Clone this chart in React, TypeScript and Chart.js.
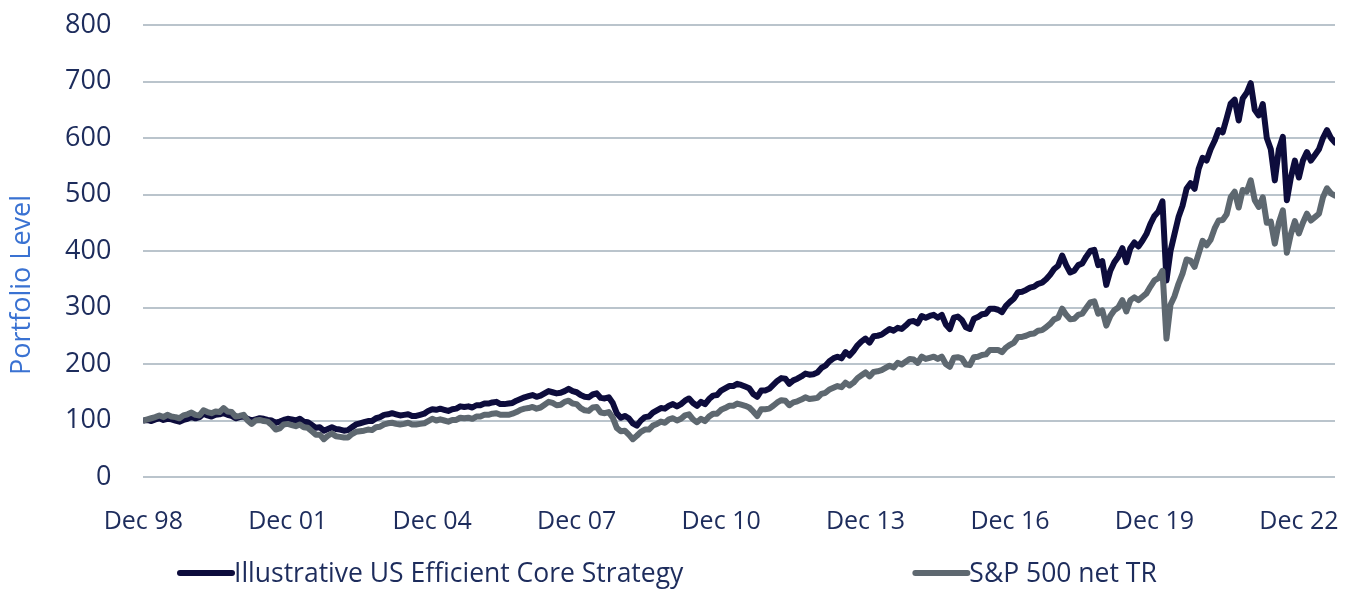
import React, { useEffect, useRef } from "react";
import { Chart, registerables } from "chart.js";

Chart.register(...registerables);

// Monthly series, starting Dec 1998 (index 0) through Sep 2023
const SERIES_NAMES = ["Illustrative US Efficient Core Strategy", "S&P 500 net TR"];
const TICK_LABELS = ["Dec 98", "Dec 01", "Dec 04", "Dec 07", "Dec 10", "Dec 13", "Dec 16", "Dec 19", "Dec 22"];
const MONTHS_PER_TICK = 36;
const Y_MIN = 0;
const Y_MAX = 800;
const Y_STEP = 100;
const Y_TITLE = "Portfolio Level";

const CORE = [
  100,
  101, 99, 102, 104, 101, 103, 102, 100, 98, 101, 103, 106,
  104, 106, 112, 109, 107, 110, 111, 113, 110, 108, 104, 106,
  107, 103, 100, 102, 104, 103, 101, 100, 96, 98, 101, 103,
  102, 100, 103, 98, 97, 92, 87, 88, 82, 85, 88, 85,
  84, 82, 83, 88, 93, 95, 97, 99, 99, 104, 106, 110,
  111, 113, 111, 109, 110, 111, 108, 108, 110, 112, 117, 120,
  119, 121, 119, 117, 120, 121, 125, 124, 125, 123, 127, 127,
  130, 130, 132, 133, 129, 129, 130, 131, 135, 138, 141, 143,
  145, 142, 144, 148, 152, 150, 148, 149, 152, 156, 152, 150,
  145, 142, 141, 146, 148, 140, 139, 141, 131, 113, 105, 108,
  104, 95, 91, 100, 106, 107, 114, 118, 122, 121, 126, 129,
  125, 129, 135, 139, 131, 126, 133, 129, 138, 144, 145, 153,
  157, 161, 161, 165, 163, 160, 157, 147, 142, 153, 153, 156,
  163, 170, 175, 174, 165, 171, 174, 178, 183, 181, 182, 185,
  193, 197, 205, 210, 213, 210, 221, 215, 223, 233, 240, 245,
  238, 249, 250, 252, 257, 262, 259, 264, 262, 268, 275, 276,
  272, 285, 282, 285, 287, 282, 287, 270, 262, 282, 284, 278,
  265, 262, 280, 283, 288, 289, 298, 298, 296, 292, 303, 310,
  316, 327, 328, 331, 335, 337, 342, 344, 350, 358, 368, 374,
  392, 375, 362, 365, 375, 378, 390, 400, 402, 375, 382, 340,
  365, 380, 390, 405, 380, 405, 415, 408, 418, 430, 448, 462,
  470, 488, 348, 400, 430, 460, 480, 510, 520, 510, 545, 565,
  560, 580, 595, 614, 610, 635, 661, 668, 631, 670, 680, 697,
  650, 640, 660, 600, 580, 525, 580, 602, 490, 530, 560, 530,
  560, 575, 560, 570, 580, 600, 614, 600, 592,
];

const SPX = [
  100,
  102, 104, 106, 109, 106, 110, 107, 106, 104, 109, 111, 114,
  110, 109, 118, 115, 113, 116, 115, 122, 116, 115, 107, 108,
  110, 100, 94, 100, 101, 99, 98, 92, 84, 86, 93, 94,
  92, 90, 93, 88, 87, 81, 75, 75, 67, 73, 77, 72,
  71, 70, 70, 76, 80, 81, 82, 84, 83, 88, 89, 93,
  95, 96, 94, 93, 94, 96, 93, 93, 94, 95, 99, 103,
  100, 102, 100, 98, 101, 101, 105, 104, 105, 103, 107, 107,
  110, 110, 112, 113, 110, 110, 110, 112, 115, 119, 121, 122,
  124, 121, 123, 128, 133, 131, 127, 128, 133, 135, 130, 129,
  122, 118, 117, 123, 124, 114, 113, 115, 105, 87, 81, 82,
  75, 67, 73, 80, 84, 84, 91, 94, 98, 96, 102, 104,
  100, 103, 109, 111, 102, 97, 103, 99, 107, 112, 112, 119,
  122, 126, 126, 130, 128, 126, 123, 116, 108, 120, 120, 121,
  126, 132, 136, 135, 127, 132, 134, 137, 141, 138, 139, 140,
  147, 149, 155, 158, 161, 159, 167, 162, 167, 175, 180, 185,
  178, 186, 187, 189, 193, 197, 194, 202, 199, 204, 209, 208,
  202, 213, 209, 211, 213, 209, 213, 200, 195, 211, 212, 210,
  199, 198, 212, 213, 216, 217, 225, 225, 225, 221, 229, 234,
  238, 248, 248, 250, 253, 254, 259, 260, 265, 271, 279, 282,
  298, 287, 279, 280, 287, 289, 299, 309, 311, 289, 295, 268,
  285, 295, 300, 313, 293, 313, 318, 313, 319, 325, 337, 348,
  352, 365, 245, 305, 320, 342, 360, 385, 383, 372, 395, 418,
  410, 420, 440, 454, 455, 465, 495, 505, 477, 508, 505, 525,
  490, 478, 495, 450, 452, 413, 450, 472, 397, 430, 453, 431,
  450, 466, 454, 460, 466, 495, 511, 502, 498,
];

const COLORS = { core: "#0d0c3c", spx: "#5e6870", grid: "#bac4cc", tick: "#1d2c5c", title: "#3a72d2" };
const FONT = "'Open Sans', 'Noto Sans', sans-serif";

const decorPlugin = {
  id: "decor",
  afterDraw(chart: any, _args: any, opts: any) {
    const { ctx, chartArea } = chart;
    ctx.save();
    ctx.font = `${opts.titleSize}px ${FONT}`;
    ctx.fillStyle = COLORS.title;
    ctx.textAlign = "center";
    ctx.textBaseline = "middle";
    ctx.translate(opts.titleX, (chartArea.top + chartArea.bottom) / 2 + opts.titleShift);
    ctx.rotate(-Math.PI / 2);
    ctx.fillText(opts.title, 0, 0);
    ctx.restore();

    ctx.save();
    ctx.font = `${opts.legendSize}px ${FONT}`;
    ctx.textBaseline = "middle";
    ctx.textAlign = "left";
    const items = chart.data.datasets.map((ds: any) => ({
      label: ds.label,
      color: ds.borderColor,
      w: opts.lineLen + opts.lineGap + ctx.measureText(ds.label).width,
    }));
    let x = opts.legendStart;
    const y = opts.legendY;
    items.forEach((it: any) => {
      ctx.strokeStyle = it.color;
      ctx.lineWidth = opts.lineThickness;
      ctx.lineCap = "round";
      ctx.beginPath();
      ctx.moveTo(x + 3, y);
      ctx.lineTo(x + opts.lineLen, y);
      ctx.stroke();
      ctx.fillStyle = COLORS.tick;
      ctx.fillText(it.label, x + opts.lineLen + opts.lineGap, y + 1);
      x += it.w + opts.itemGap;
    });
    ctx.restore();
  },
};

export default function App() {
  const ref = useRef<HTMLCanvasElement | null>(null);

  useEffect(() => {
    if (!ref.current) return;
    const months = CORE.map((_, i) => i);
    const chart = new Chart(ref.current, {
      type: "line",
      data: {
        labels: months,
        datasets: [
          {
            label: SERIES_NAMES[0],
            data: months.map((m) => ({ x: m, y: CORE[m] })),
            borderColor: COLORS.core,
            backgroundColor: COLORS.core,
            borderWidth: 6,
            pointRadius: 0,
            tension: 0,
            order: 1,
          },
          {
            label: SERIES_NAMES[1],
            data: months.map((m) => ({ x: m, y: SPX[m] })),
            borderColor: COLORS.spx,
            backgroundColor: COLORS.spx,
            borderWidth: 6,
            pointRadius: 0,
            tension: 0,
            order: 0,
          },
        ],
      },
      options: {
        animation: false,
        responsive: true,
        maintainAspectRatio: false,
        layout: { padding: { top: 25, left: 33, right: 21, bottom: 30 } },
        elements: { line: { borderJoinStyle: "round", borderCapStyle: "round" } },
        scales: {
          x: {
            type: "linear",
            min: 0,
            max: CORE.length - 1,
            grid: { display: false },
            border: { display: false },
            afterBuildTicks: (scale: any) => {
              scale.ticks = TICK_LABELS.map((_, i) => ({ value: i * MONTHS_PER_TICK }));
            },
            afterFit: (scale: any) => {
              scale.paddingLeft = 0;
              scale.paddingRight = 0;
            },
            ticks: {
              autoSkip: false,
              maxRotation: 0,
              padding: 22,
              color: COLORS.tick,
              font: { family: FONT, size: 25 },
              callback: (v: any) => TICK_LABELS[Math.round(Number(v) / MONTHS_PER_TICK)] ?? "",
            },
          },
          y: {
            min: Y_MIN,
            max: Y_MAX,
            grid: { color: COLORS.grid, lineWidth: 2, drawTicks: false },
            border: { display: false },
            afterFit: (scale: any) => {
              scale.paddingTop = 0;
              scale.paddingBottom = 0;
            },
            ticks: {
              stepSize: Y_STEP,
              padding: 32,
              color: COLORS.tick,
              font: { family: FONT, size: 27 },
            },
          },
        },
        plugins: {
          legend: { display: false },
          tooltip: { enabled: false },
          decor: {
            title: Y_TITLE,
            titleSize: 27,
            titleX: 22,
            titleShift: 34,
            legendSize: 26.5,
            legendY: 573,
            legendStart: 177,
            lineLen: 55,
            lineGap: 2,
            lineThickness: 6,
            itemGap: 229,
          },
        } as any,
      },
      plugins: [decorPlugin],
    });
    return () => chart.destroy();
  }, []);

  return (
    <div style={{ position: "fixed", left: 0, top: 0, width: 1356, height: 589, background: "#fff" }}>
      <canvas ref={ref} />
    </div>
  );
}
